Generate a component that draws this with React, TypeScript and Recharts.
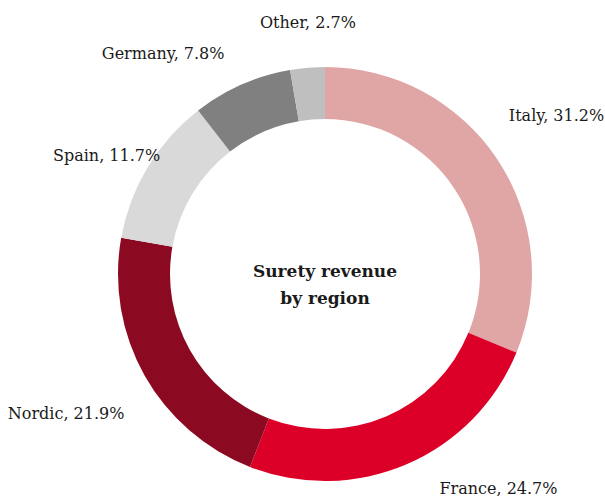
import { PieChart, Pie, Cell } from 'recharts';

const regions = ['Italy', 'France', 'Nordic', 'Spain', 'Germany', 'Other'];
const shares = [31.2, 24.7, 21.9, 11.7, 7.8, 2.7];
const colors = ['#e0a6a6', '#dc0028', '#8b0a22', '#d9d9d9', '#808080', '#bfbfbf'];

// small hand nudges so labels sit where the original's "best fit" put them
const labelNudge: Record<string, [number, number]> = {
  Italy: [-13, -27],
  France: [21, -3],
  Nordic: [6, 23],
  Spain: [38, 4],
  Germany: [-5, -4],
  Other: [3, -15],
};

const FONT = '"DejaVu Serif", serif';
const RAD = Math.PI / 180;
const CX = 325;
const CY = 274;

const data = regions.map((name, i) => ({ name, value: shares[i] }));

function renderLabel(props: any) {
  const { cx, cy, midAngle, outerRadius, name, value } = props;
  const r = outerRadius + 30;
  const cos = Math.cos(-midAngle * RAD);
  const sin = Math.sin(-midAngle * RAD);
  const [nx, ny] = labelNudge[name] || [0, 0];
  const x = cx + r * cos + nx;
  const y = cy + r * sin + ny;
  const anchor = Math.abs(cos) < 0.15 ? 'middle' : cos > 0 ? 'start' : 'end';
  return (
    <text x={x} y={y} textAnchor={anchor} dominantBaseline="central" fontFamily={FONT} fontSize={16} fill="#1a1a1a">
      {`${name}, ${value.toFixed(1)}%`}
    </text>
  );
}

export default function App() {
  return (
    <div style={{ position: 'absolute', left: 0, top: 0, width: 605, height: 499, background: '#fff' }}>
      <PieChart width={605} height={499} margin={{ top: 0, right: 0, bottom: 0, left: 0 }}>
        <Pie
          data={data}
          dataKey="value"
          nameKey="name"
          cx={CX}
          cy={CY}
          innerRadius={155}
          outerRadius={207}
          startAngle={90}
          endAngle={-270}
          stroke="none"
          label={renderLabel}
          labelLine={false}
          isAnimationActive={false}
        >
          {data.map((d, i) => (
            <Cell key={d.name} fill={colors[i]} />
          ))}
        </Pie>
      </PieChart>
      <div
        style={{
          position: 'absolute',
          left: CX - 100,
          top: CY - 16,
          width: 200,
          textAlign: 'center',
          fontFamily: FONT,
          fontSize: 17,
          fontWeight: 'bold',
          lineHeight: '27px',
          color: '#1a1a1a',
        }}
      >
        Surety revenue
        <br />
        by region
      </div>
    </div>
  );
}
